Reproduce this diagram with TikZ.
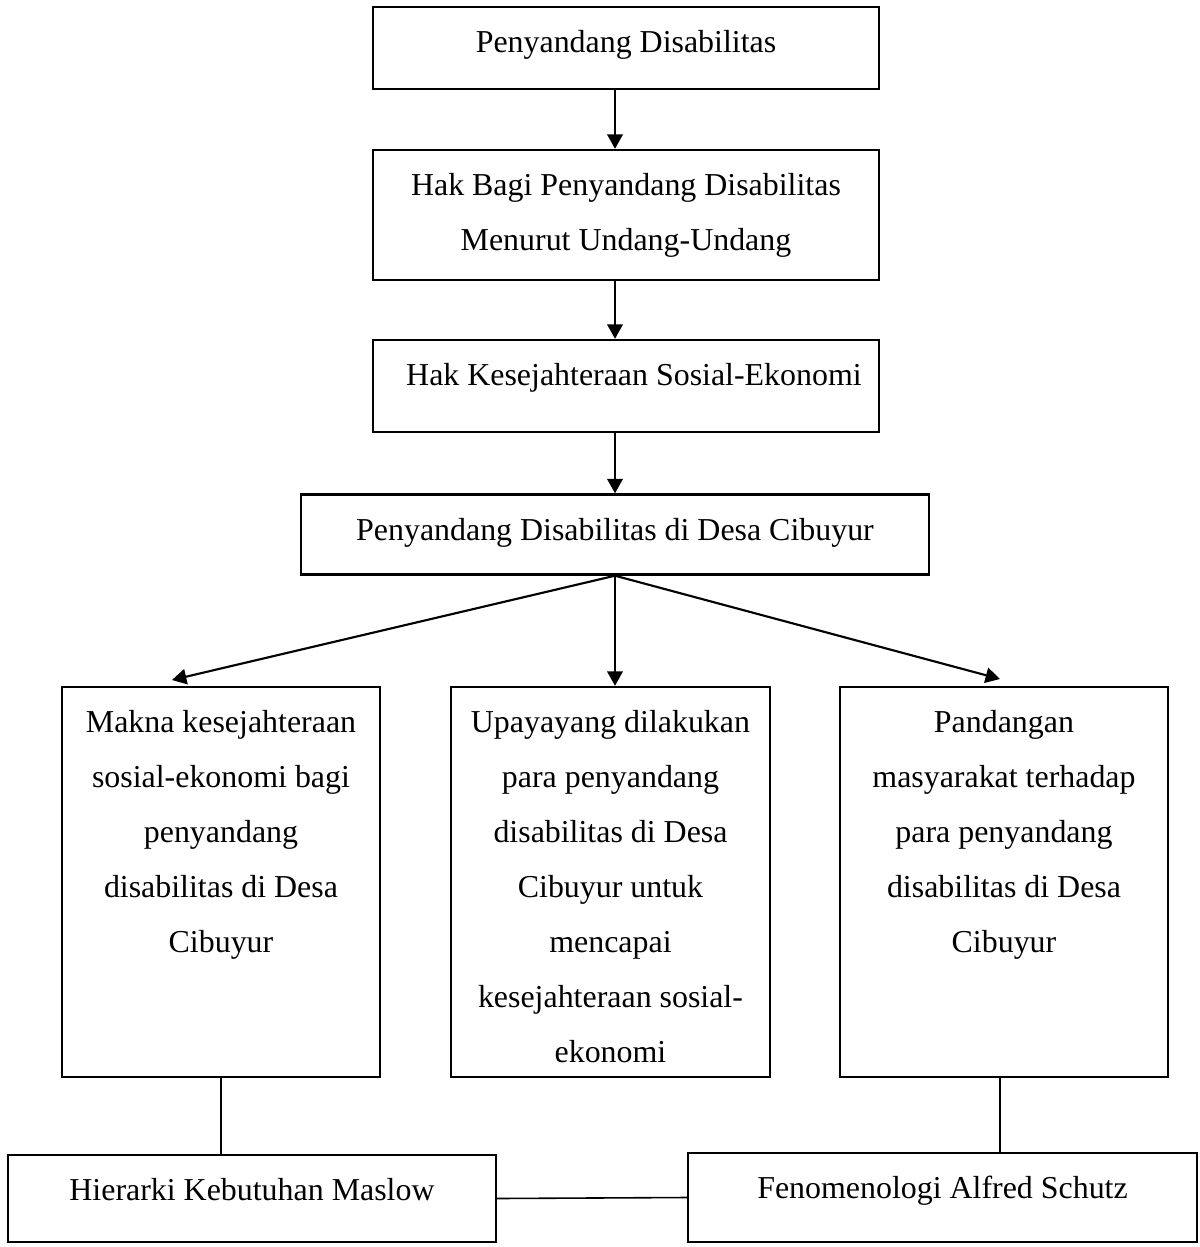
\documentclass[tikz,border=0pt]{standalone}
\usepackage{fontspec}
\setmainfont{Liberation Serif}
\usetikzlibrary{arrows.meta, calc}

\newdimen\pxu
\pxu=0.376pt
\newcommand{\boxtext}[3]{\parbox[c][#2\pxu][t]{#1\pxu}{\fontsize{12}{20.68}\selectfont\centering\vspace*{2.8pt}\strut #3}}

\begin{document}
\begin{tikzpicture}[x = 0.376pt, y = -0.376pt,
	box/.style = {draw, line width = 0.9pt, inner sep = 0pt},
	arr/.style = {line width = 0.8pt, -{Triangle[length = 5.4pt, width = 5.8pt]}},
	link/.style = {line width = 0.6pt}]
	\useasboundingbox (0,0) rectangle (1200,1247);

	\node [box] (pd) at (626,48) {\boxtext{506}{82}{Penyandang Disabilitas}};
	\node [box] (hak) at (626,215) {\boxtext{506}{130}{Hak Bagi Penyandang Disabilitas\\Menurut Undang-Undang}};
	\node [box] (hks) at (626,386) {\boxtext{506}{92}{\hspace*{6pt}Hak Kesejahteraan Sosial-Ekonomi}};
	\node [box] (pdc) at (615,534.5) {\boxtext{628}{80}{Penyandang Disabilitas di Desa Cibuyur}};

	\node [box] (makna) at (221,882) {\boxtext{318}{390}{Makna kesejahteraan\\sosial-ekonomi bagi\\penyandang\\disabilitas di Desa\\Cibuyur}};
	\node [box] (upaya) at (610.5,882) {\boxtext{319}{390}{Upayayang dilakukan\\para penyandang\\disabilitas di Desa\\Cibuyur untuk\\mencapai\\kesejahteraan sosial-\\ekonomi}};
	\node [box] (pandang) at (1004,882) {\boxtext{328}{390}{Pandangan\\masyarakat terhadap\\para penyandang\\disabilitas di Desa\\Cibuyur}};

	\node [box] (maslow) at (252,1198.5) {\boxtext{488}{87}{Hierarki Kebutuhan Maslow}};
	\node [box] (schutz) at (942.5,1197.5) {\boxtext{509}{89}{Fenomenologi Alfred Schutz}};

	\coordinate (tipl) at (172,680);
	\coordinate (tipr) at (1000,679);

	\draw [arr] (pd.south -| pdc.south) -- (hak.north -| pdc.south);
	\draw [arr] (hak.south -| pdc.south) -- (hks.north -| pdc.south);
	\draw [arr] (hks.south -| pdc.south) -- (pdc.north);

	\draw [arr] (pdc.south) -- (tipl);
	\draw [arr] (pdc.south) -- (pdc.south |- upaya.north);
	\draw [arr] (pdc.south) -- (tipr);

	\draw [link] (makna.south) -- (makna.south |- maslow.north);
	\draw [link] (pandang.south) ++(-4,0) -- ($(pandang.south |- schutz.north) + (-4,0)$);
	\draw [link] (maslow.east) -- (schutz.west);
\end{tikzpicture}
\end{document}
